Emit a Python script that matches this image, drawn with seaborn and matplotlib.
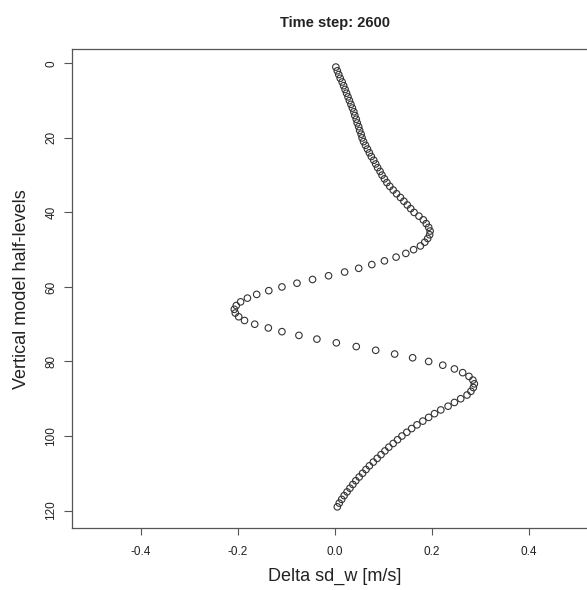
import matplotlib
matplotlib.use("Agg")
import matplotlib.pyplot as plt
import numpy as np
import pandas as pd
import seaborn as sns

# vertical half-levels 1..119 and the delta of sd_w
levels = list(range(1, 120))
delta_sd_w = [
    0.002, 0.005, 0.008, 0.011, 0.015, 0.018, 0.021, 0.024, 0.027, 0.030,
    0.033, 0.036, 0.039, 0.041, 0.044, 0.046, 0.049, 0.051, 0.054, 0.056,
    0.059, 0.063, 0.067, 0.071, 0.075, 0.080, 0.084, 0.088, 0.093, 0.097,
    0.102, 0.107, 0.113, 0.120, 0.127, 0.135, 0.142, 0.149, 0.156, 0.163,
    0.173, 0.182, 0.188, 0.193, 0.196, 0.195, 0.191, 0.185, 0.176, 0.162,
    0.146, 0.126, 0.102, 0.076, 0.049, 0.020, -0.013, -0.046, -0.078, -0.109,
    -0.136, -0.161, -0.180, -0.194, -0.203, -0.207, -0.205, -0.198, -0.186, -0.165,
    -0.137, -0.109, -0.074, -0.037, 0.003, 0.044, 0.084, 0.123, 0.160, 0.193,
    0.222, 0.246, 0.263, 0.276, 0.284, 0.287, 0.285, 0.280, 0.272, 0.259,
    0.246, 0.233, 0.218, 0.205, 0.193, 0.181, 0.169, 0.158, 0.148, 0.138,
    0.129, 0.120, 0.111, 0.103, 0.095, 0.087, 0.079, 0.071, 0.064, 0.057,
    0.050, 0.043, 0.037, 0.031, 0.025, 0.019, 0.014, 0.009, 0.005,
]
x_ticks = [-0.4, -0.2, 0.0, 0.2, 0.4]
y_ticks = [0, 20, 40, 60, 80, 100, 120]
title = "Time step: 2600"

df = pd.DataFrame({"delta": delta_sd_w, "level": levels})

sns.set_style("white")
plt.rcParams["font.family"] = ["Liberation Sans", "DejaVu Sans"]
plt.rcParams["text.color"] = "#222222"

fig = plt.figure(figsize=(5.87, 5.90), dpi=100)
# right edge of the box falls just outside the picture, as in the reference
ax = fig.add_axes([0.1227, 0.1046, 0.8956, 0.8118])

sns.scatterplot(data=df, x="delta", y="level", ax=ax, s=22,
                marker="o", edgecolor="#333333", linewidth=0.8, legend=False)
ax.collections[0].set_facecolor("none")

ax.set_xlim(-0.541, 0.541)
ax.set_ylim(124.76, -3.76)
ax.set_xticks(x_ticks)
ax.set_xticklabels(["%.1f" % v for v in x_ticks])
ax.set_yticks(y_ticks)
ax.set_yticklabels([str(v) for v in y_ticks], rotation=90, va="center")

for s in ax.spines.values():
    s.set_color("#555555")
    s.set_linewidth(0.9)

ax.tick_params(axis="x", direction="out", length=5, width=0.8, color="#555555",
               pad=8, labelsize=8.5, labelcolor="#222222", bottom=True)
ax.tick_params(axis="y", direction="out", length=5.5, width=0.8, color="#555555",
               pad=5, labelsize=8.5, labelcolor="#222222", left=True)

ax.set_xlabel("Delta sd_w [m/s]", fontsize=13, color="#222222")
ax.set_ylabel("Vertical model half-levels", fontsize=13, color="#222222")
ax.xaxis.set_label_coords(0.5, -0.082)
ax.yaxis.set_label_coords(-0.08, 0.5)
ax.set_title(title, fontsize=10.5, fontweight="bold", pad=16)

fig.savefig("out.png", dpi=100)
